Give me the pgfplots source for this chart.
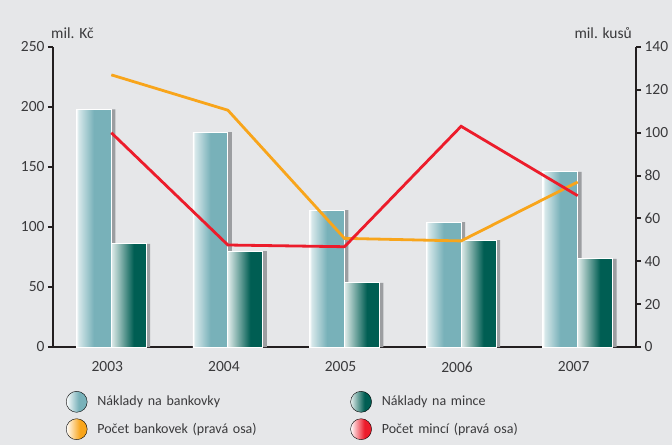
\documentclass[border=0pt]{standalone}
\usepackage{pgfplots}
\pgfplotsset{compat=1.18}
\usepackage{fontspec}
\setmainfont{Carlito}
\definecolor{bg}{HTML}{E6E7E9}
\definecolor{tealL}{HTML}{78B1B9}
\definecolor{darkG}{HTML}{005E53}
\definecolor{shadowG}{HTML}{9C9EA1}
\definecolor{axcol}{HTML}{231F20}
\definecolor{lineO}{HTML}{F8A51B}
\definecolor{lineR}{HTML}{EC1C2B}
\definecolor{txt}{HTML}{3A3A3C}
\pgfdeclarehorizontalshading{lightbar}{100bp}{color(0bp)=(white); color(25bp)=(white); color(28bp)=(tealL!30!white); color(50bp)=(tealL); color(100bp)=(tealL)}
\pgfdeclarehorizontalshading{darkbar}{100bp}{color(0bp)=(white); color(25bp)=(darkG!12!white); color(57bp)=(darkG); color(100bp)=(darkG)}
\pgfdeclarehorizontalshading{orangeball}{100bp}{color(0bp)=(white); color(25bp)=(white); color(58bp)=(lineO); color(100bp)=(lineO)}
\pgfdeclarehorizontalshading{redball}{100bp}{color(0bp)=(white); color(25bp)=(white); color(58bp)=(lineR); color(100bp)=(lineR)}
\pgfdeclarehorizontalshading{lightball}{100bp}{color(0bp)=(white); color(25bp)=(white); color(55bp)=(tealL); color(100bp)=(tealL)}
\pgfdeclarehorizontalshading{darkball}{100bp}{color(0bp)=(white); color(25bp)=(darkG!10!white); color(58bp)=(darkG); color(100bp)=(darkG)}
\newcommand{\lf}{\fontsize{15.5}{18}\selectfont}
\newcommand{\legf}{\fontsize{14}{17}\selectfont}
\newcommand{\lbar}[2]{\addplot[forget plot, ybar, bar width=0.3, bar shift=-0.15, shading=lightbar, draw=white, line width=0.8pt] coordinates {(#1,#2)};}
\newcommand{\dbar}[2]{\addplot[forget plot, ybar, bar width=0.3, bar shift=0.15, shading=darkbar, draw=white, line width=0.8pt] coordinates {(#1,#2)};}
\begin{document}
\begin{tikzpicture}[font=\lf, text=txt]
\fill[bg] (-53pt,-98pt) rectangle (619pt,347pt);
\useasboundingbox (-53pt,-98pt) rectangle (619pt,347pt);
\node[anchor=base west, inner sep=0pt] at (-2pt,308pt) {mil. Kč};
\node[anchor=base east, inner sep=0pt] at (579pt,308pt) {mil. kusů};
\begin{axis}[
  at={(0pt,0pt)}, anchor=south west,
  scale only axis, width=583pt, height=300pt,
  xmin=-0.5, xmax=4.5, ymin=0, ymax=250,
  axis x line*=bottom, axis y line*=left,
  axis line style={line width=2.2pt, draw=axcol, -},
  xtick={0,1,2,3,4}, xticklabels={2003,2004,2005,2006,2007},
  ytick={0,50,100,150,200,250},
  tick align=outside, major tick length=5pt,
  tick style={line width=2pt, draw=axcol},
  xtick style={draw=none},
  tick label style={font=\lf, text=txt},
  xticklabel style={xshift=-4pt, yshift=-6pt},
  /pgf/number format/assume math mode=true,
  clip=false,
]
% shadows of the banknote-cost bars
\addplot[forget plot, ybar, bar width=0.3, bar shift=-0.116, fill=shadowG, draw=none] coordinates {(0,198) (1,179) (2,114) (3,104) (4,146)};
% banknote costs (mil. Kc)
\lbar{0}{198}
\lbar{1}{179}
\lbar{2}{114}
\lbar{3}{104}
\lbar{4}{146}
% shadows of the coin-cost bars
\addplot[forget plot, ybar, bar width=0.3, bar shift=0.184, fill=shadowG, draw=none] coordinates {(0,86) (1,80) (2,53.5) (3,89) (4,73.5)};
% coin costs (mil. Kc)
\dbar{0}{86}
\dbar{1}{80}
\dbar{2}{53.5}
\dbar{3}{89}
\dbar{4}{73.5}
\end{axis}
\begin{axis}[
  at={(0pt,0pt)}, anchor=south west,
  scale only axis, width=583pt, height=300pt,
  xmin=-0.5, xmax=4.5, ymin=0, ymax=140,
  axis x line=none, axis y line*=right,
  axis line style={line width=2.2pt, draw=axcol, -},
  ytick={0,20,40,60,80,100,120,140},
  tick align=outside, major tick length=5pt,
  tick style={line width=2pt, draw=axcol},
  tick label style={font=\lf, text=txt},
  /pgf/number format/assume math mode=true,
  clip=false,
  legend columns=2,
  legend cell align=left,
  legend style={at={(0.0223,-0.147)}, anchor=north west, draw=none, fill=none,
    inner sep=0pt, outer sep=0pt, row sep=6pt,
    nodes={text width=251pt, align=left, font=\legf, text=txt}},
]
\addplot[forget plot, lineO, line width=2.8pt] coordinates {(0,127) (1,110.5) (2,50.7) (3,49.5) (4,77)};
\addplot[forget plot, lineR, line width=2.8pt] coordinates {(0,100) (1,47.6) (2,46.8) (3,103) (4,70.6)};
\addlegendimage{legend image code/.code={\shade[shading=lightball] (10.5pt,0pt) circle (10.5pt); \path (0pt,0pt) (29pt,0pt);}}
\addlegendentry{Náklady na bankovky}
\addlegendimage{legend image code/.code={\shade[shading=darkball] (10.5pt,0pt) circle (10.5pt); \path (0pt,0pt) (29pt,0pt);}}
\addlegendentry{Náklady na mince}
\addlegendimage{legend image code/.code={\shade[shading=orangeball] (10.5pt,0pt) circle (10.5pt); \path (0pt,0pt) (29pt,0pt);}}
\addlegendentry{Počet bankovek (pravá osa)}
\addlegendimage{legend image code/.code={\shade[shading=redball] (10.5pt,0pt) circle (10.5pt); \path (0pt,0pt) (29pt,0pt);}}
\addlegendentry{Počet mincí (pravá osa)}
\end{axis}
\end{tikzpicture}
\end{document}
